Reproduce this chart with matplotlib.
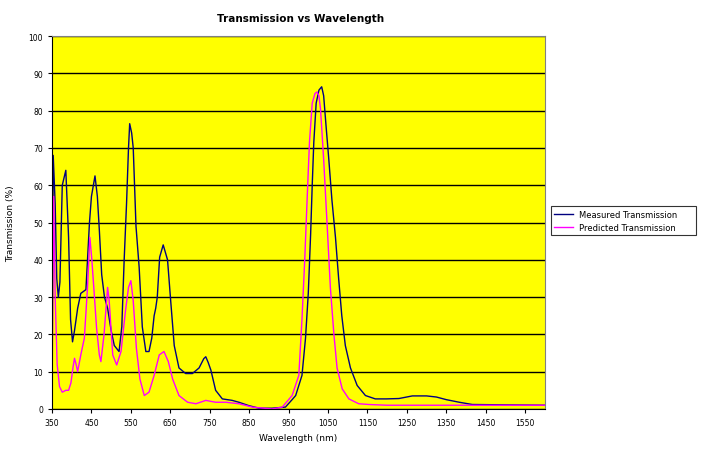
import numpy as np
import matplotlib
matplotlib.use("Agg")
from matplotlib import pyplot as plt

# Measured transmission (wavelength nm, %)
meas_wl = [350, 353, 358, 362, 366, 370, 376, 385, 392, 397, 402, 407, 415, 423, 436,
           445, 450, 459, 465, 470, 476, 483, 491, 500, 508, 520, 527, 533, 539, 544,
           547, 552, 556, 563, 571, 579, 588, 596, 603, 609, 613, 617, 623, 632, 643,
           651, 660, 672, 689, 706, 723, 735, 740, 746, 753, 765, 782, 807, 824, 849,
           875, 908, 942, 959, 968, 984, 993, 1000, 1006, 1010, 1014, 1020, 1027, 1034,
           1039, 1045, 1052, 1060, 1069, 1077, 1085, 1094, 1107, 1124, 1145, 1170, 1198,
           1230, 1264, 1300, 1325, 1350, 1383, 1416, 1500, 1600]
meas_t = [5, 68, 55, 35, 30, 34, 60, 64, 46, 24, 18, 21, 27, 31, 32,
          50, 57, 62.5, 57, 48, 36, 30, 27, 21, 17, 15.4, 22, 40, 55, 70,
          76.5, 74, 70, 49, 38, 22, 15.4, 15.4, 19, 25, 27, 30, 40.7, 44, 40,
          29, 17, 11, 9.5, 9.5, 11, 13.5, 14, 12.5, 10.4, 5, 2.7, 2.3, 1.8, 0.9,
          0.2, 0.2, 0.5, 2.5, 3.6, 9, 19, 31, 47, 60, 71.5, 82, 85.5, 86.4,
          84, 76, 67, 56, 46, 35, 25, 17, 11, 6.3, 3.6, 2.7, 2.7,
          2.8, 3.5, 3.5, 3.2, 2.5, 1.8, 1.2, 1.1, 1.0]

# Predicted transmission
pred_wl = [350, 354, 358, 363, 369, 376, 385, 392, 398, 403, 407, 411, 415, 423, 432,
           440, 446, 451, 457, 463, 470, 474, 482, 491, 495, 504, 514, 525, 536, 544,
           550, 556, 564, 573, 584, 596, 609, 622, 634, 645, 656, 672, 694, 715, 740,
           765, 791, 824, 858, 908, 934, 959, 976, 984, 991, 997, 1003, 1010, 1017,
           1022, 1027, 1031, 1039, 1048, 1056, 1065, 1073, 1086, 1103, 1128, 1153,
           1200, 1300, 1400, 1600]
pred_t = [3, 57, 30, 12, 6, 4.5, 5, 5, 7, 11, 13.6, 12, 10, 14.5, 19,
          32.6, 46, 40, 31, 21.7, 14.5, 12.7, 20, 32.6, 29, 14.5, 11.8, 15.4, 26, 32.6,
          34.4, 29, 16.3, 8, 3.6, 4.5, 9, 14.5, 15.4, 12.7, 8, 3.6, 1.8, 1.4, 2.3,
          1.8, 1.8, 1.4, 0.5, 0, 0.5, 3.6, 9, 24, 40, 56, 71.5, 82, 84.6,
          85, 84, 80.5, 67, 49, 32.6, 20, 11, 5.4, 2.7, 1.4, 1.2,
          1.0, 1.0, 1.0, 1.0]

x_ticks = list(range(350, 1551, 100))
y_ticks = list(range(0, 101, 10))

fig = plt.figure(figsize=(7.03, 4.52), dpi=100)
ax = fig.add_axes([0.074, 0.093, 0.701, 0.825])
ax.set_facecolor('#FFFF00')

ax.plot(meas_wl, meas_t, color='#000080', lw=1.0, label='Measured Transmission')
ax.plot(pred_wl, pred_t, color='#FF00FF', lw=1.0, label='Predicted Transmission')

ax.set_xlim(350, 1600)
ax.set_ylim(0, 100)
ax.set_xticks(x_ticks)
ax.set_yticks(y_ticks)
ax.tick_params(labelsize=5.5, length=3, direction='out')
ax.yaxis.grid(True, color='black', lw=1)
ax.set_axisbelow(True)
for s in ['top', 'right']:
    ax.spines[s].set_color('#808080')
for s in ['left', 'bottom']:
    ax.spines[s].set_color('black')

fig.text(0.427, 0.958, 'Transmission vs Wavelength', ha='center', va='center',
         fontsize=7.5, fontweight='bold')
ax.set_xlabel('Wavelength (nm)', fontsize=6.5, labelpad=4)
ax.set_ylabel('Transmission (%)', fontsize=6.5, labelpad=10)

leg = fig.legend(loc='lower left', bbox_to_anchor=(0.778, 0.468, 0.218, 0.078),
                 mode='expand', fontsize=6, frameon=True, fancybox=False,
                 edgecolor='black', handlelength=2.2, borderpad=0.4,
                 labelspacing=0.5)
leg.get_frame().set_linewidth(0.8)

fig.savefig('out.png', dpi=100)
